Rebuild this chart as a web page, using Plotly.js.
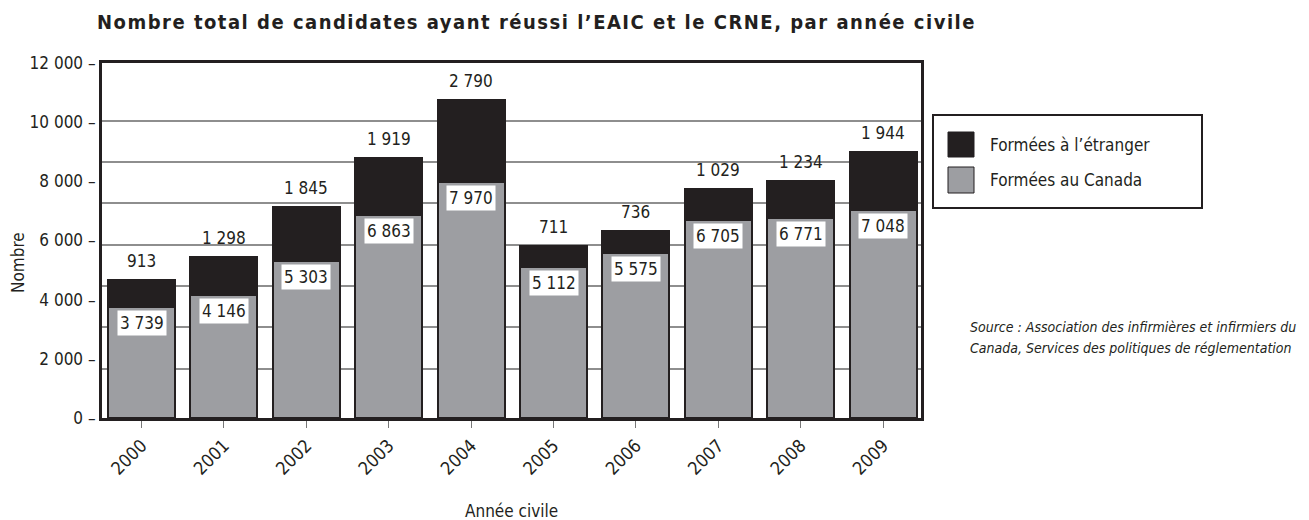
<!DOCTYPE html>
<html>
<head>
<meta charset="utf-8">
<script src="https://cdn.plot.ly/plotly-3.0.1.min.js"></script>
<style>
  html, body { margin: 0; padding: 0; background: #fff; }
  #chart { width: 1309px; height: 520px; }
  .gtitle { letter-spacing: 1.5px; }
</style>
</head>
<body>
<div id="chart"></div>
<script>
// ---- Data ----
const years = ['2000', '2001', '2002', '2003', '2004', '2005', '2006', '2007', '2008', '2009'];
const formeesCanada = [3739, 4146, 5303, 6863, 7970, 5112, 5575, 6705, 6771, 7048];
const formeesEtranger = [913, 1298, 1845, 1919, 2790, 711, 736, 1029, 1234, 1944];
const seriesNames = ['Formées à l’étranger', 'Formées au Canada'];
const yTickValues = [0, 2000, 4000, 6000, 8000, 10000, 12000];

// ---- Styling / layout constants ----
const FONT = '"Liberation Sans Narrow", "Arial Narrow", "DejaVu Sans Condensed", sans-serif';
const INK = '#231f20';
const GREY = '#9d9ea2';
const W = 1309, H = 520;
const M = { l: 102, r: 388, t: 63, b: 102 };
const plotW = W - M.l - M.r, plotH = H - M.t - M.b;
const px = x => (x - M.l) / plotW;          // page x -> paper x
const py = y => (H - M.b - y) / plotH;      // page y -> paper y

const fmt = v => String(v).replace(/\B(?=(\d{3})+(?!\d))/g, ' ');

const traces = [
  {
    type: 'bar', name: seriesNames[1], x: years, y: formeesCanada,
    marker: { color: GREY, line: { color: INK, width: 2 } },
    hoverinfo: 'x+y+name'
  },
  {
    type: 'bar', name: seriesNames[0], x: years, y: formeesEtranger,
    marker: { color: INK, line: { color: INK, width: 2 } },
    hoverinfo: 'x+y+name'
  },
  // invisible trace on a helper axis that only carries the decorative grid lines
  {
    type: 'scatter', x: [years[0]], y: [0], yaxis: 'y2', mode: 'markers',
    marker: { opacity: 0 }, hoverinfo: 'skip', showlegend: false
  }
];

const annotations = [];
years.forEach((yr, i) => {
  const total = formeesCanada[i] + formeesEtranger[i];
  annotations.push({
    x: i, y: total, xref: 'x', yref: 'y', text: fmt(formeesEtranger[i]),
    showarrow: false, yanchor: 'bottom', yshift: 7,
    font: { family: FONT, size: 17, color: INK }
  });
  annotations.push({
    x: i, y: formeesCanada[i], xref: 'x', yref: 'y', text: fmt(formeesCanada[i]),
    showarrow: false, yanchor: 'top', yshift: -3,
    bgcolor: '#ffffff', borderpad: 2,
    font: { family: FONT, size: 17, color: INK }
  });
});

// axis titles
annotations.push({
  xref: 'paper', yref: 'paper', x: px(18), y: py(263), text: 'Nombre',
  textangle: -90, showarrow: false, xanchor: 'center', yanchor: 'middle',
  font: { family: FONT, size: 17, color: INK }
});
annotations.push({
  xref: 'paper', yref: 'paper', x: 0.5, y: py(511), text: 'Année civile',
  showarrow: false, xanchor: 'center', yanchor: 'middle',
  font: { family: FONT, size: 17, color: INK }
});

// legend (drawn by hand to get the large swatches)
const legendItems = [
  { name: seriesNames[0], color: INK, top: 132, bottom: 157, ty: 145 },
  { name: seriesNames[1], color: GREY, top: 167, bottom: 193, ty: 180 }
];
const shapes = [
  {
    type: 'rect', xref: 'paper', yref: 'paper',
    x0: px(933), x1: px(1202), y0: py(208), y1: py(115),
    line: { color: INK, width: 2 }, fillcolor: '#ffffff'
  }
];
legendItems.forEach(it => {
  shapes.push({
    type: 'rect', xref: 'paper', yref: 'paper',
    x0: px(948), x1: px(974), y0: py(it.bottom), y1: py(it.top),
    line: { color: INK, width: 1 }, fillcolor: it.color
  });
  annotations.push({
    xref: 'paper', yref: 'paper', x: px(988), y: py(it.ty), text: it.name,
    showarrow: false, xanchor: 'left', yanchor: 'middle',
    font: { family: FONT, size: 17, color: INK }
  });
});

// source
[['Source : Association des infirmières et infirmiers du', 327],
 ['Canada, Services des politiques de réglementation', 348]].forEach(([t, y]) => {
  annotations.push({
    xref: 'paper', yref: 'paper', x: px(968), y: py(y), text: t,
    showarrow: false, xanchor: 'left', yanchor: 'middle',
    font: { family: FONT, size: 14, color: INK, style: 'italic' }
  });
});

const gridVals = [1, 2, 3, 4, 5, 6, 7].map(k => k * 10000 / 7);

const layout = {
  width: W, height: H,
  margin: M,
  paper_bgcolor: '#ffffff', plot_bgcolor: '#ffffff',
  showlegend: false,
  barmode: 'stack', bargap: 0.187,
  title: {
    text: '<b>Nombre total de candidates ayant réussi l’EAIC et le CRNE, par année civile</b>',
    xref: 'container', x: 97 / W, xanchor: 'left',
    yref: 'container', y: 1 - 22 / H, yanchor: 'middle',
    font: { family: FONT, size: 20, color: INK }
  },
  xaxis: {
    type: 'category', range: [-0.48, 9.46],
    showline: true, mirror: true, linecolor: INK, linewidth: 3,
    ticks: 'outside', ticklen: 7, tickwidth: 1, tickcolor: '#777777',
    tickangle: -45, showgrid: false, zeroline: false,
    tickfont: { family: FONT, size: 18, color: INK }
  },
  yaxis: {
    range: [0, 12000], tickvals: yTickValues,
    ticktext: yTickValues.map(v => fmt(v) + ' –'),
    showline: true, mirror: true, linecolor: INK, linewidth: 3,
    ticks: '', showgrid: false, zeroline: false,
    tickfont: { family: FONT, size: 17, color: INK }
  },
  yaxis2: {
    overlaying: 'y', range: [-280, 12000], tickvals: gridVals,
    showticklabels: false, ticks: '', showgrid: true,
    gridcolor: '#8e8e8e', gridwidth: 2, zeroline: false, showline: false,
    layer: 'below traces'
  },
  shapes: shapes,
  annotations: annotations
};

Plotly.newPlot('chart', traces, layout, { displayModeBar: false, staticPlot: true });
</script>
</body>
</html>
